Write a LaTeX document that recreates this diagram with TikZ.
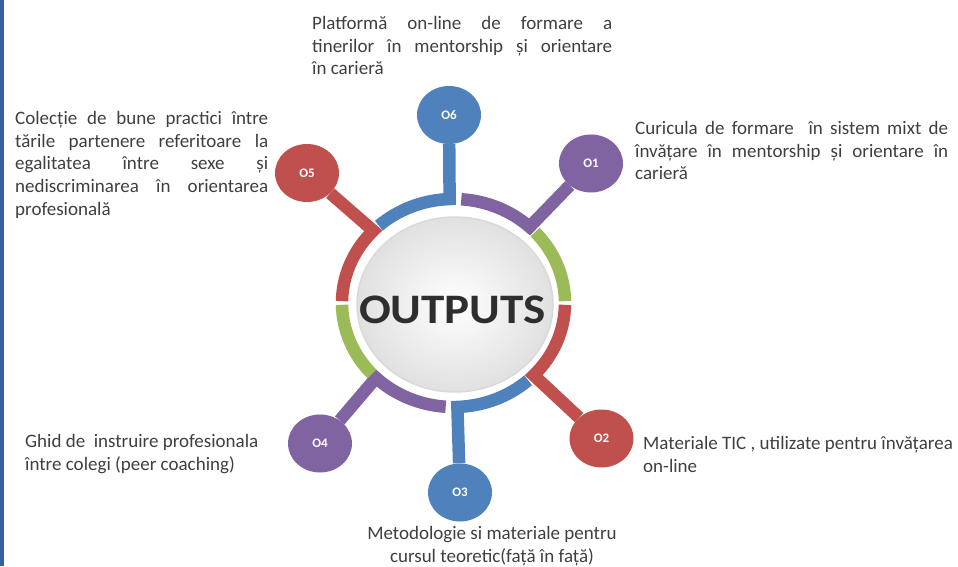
\documentclass[tikz,border=0pt]{standalone}
\usepackage{fontspec}
\setmainfont{Carlito}
\usetikzlibrary{positioning,calc,shapes.geometric}
\definecolor{oblue}{HTML}{4F81BD}
\definecolor{ored}{HTML}{C0504D}
\definecolor{ogreen}{HTML}{9BBB59}
\definecolor{opurple}{HTML}{8064A2}
\definecolor{otext}{HTML}{3F3F3F}
\definecolor{oframe}{HTML}{3A5FA0}

\begin{document}
\begin{tikzpicture}[x=1pt, y=1pt,
				outnode/.style={ellipse, minimum width=64pt, minimum height=58pt, inner sep=0pt, text=white, font=\fontsize{13}{13}\selectfont\bfseries},
				desc/.style={inner sep=0pt, text=otext, font=\fontsize{19}{22.8}\selectfont},
				ring/.style={line width=12.5pt, line join=miter}
			]
			\useasboundingbox (0,0) rectangle (958,566);
			\fill[oframe] (0,0) rectangle (4,566);
			\coordinate (C) at (453.5,263);
			% centre disc
			\shade[inner color=white, outer color=black!12] (455,261.5) ellipse [x radius=98pt, y radius=87.5pt];
			\draw[black!15, line width=1.5pt] (455,261.5) ellipse [x radius=98pt, y radius=87.5pt];
			\node[text=black!82, font=\fontsize{42}{42}\selectfont\bfseries, xscale=1.12] (title) at (452.5,256) {OUTPUTS};
			% outputs
			\node[outnode, fill=oblue] (o6) at (449,451) {O6};
			\node[outnode, fill=opurple] (o1) at (591,402.5) {O1};
			\node[outnode, fill=ored] (o5) at (307,393) {O5};
			\node[outnode, fill=ored] (o2) at (601.5,127.5) {O2};
			\node[outnode, fill=oblue] (o3) at (460,73.5) {O3};
			\node[outnode, fill=opurple] (o4) at (320,122.5) {O4};
			\begin{scope}[ring]
			\draw[oblue] (o6) -- ($(C)+(92:111.5pt and 104pt)$) arc[start angle=92, end angle=132, x radius=111.5pt, y radius=104pt];
			\draw[opurple] (o1) -- ($(C)+(47:111.5pt and 104pt)$) arc[start angle=47, end angle=86, x radius=111.5pt, y radius=104pt];
			\draw[ored] (o5) -- ($(C)+(136:111.5pt and 104pt)$) arc[start angle=136, end angle=179, x radius=111.5pt, y radius=104pt];
			\draw[ored] (o2) -- ($(C)+(316:111.5pt and 104pt)$) arc[start angle=316, end angle=359, x radius=111.5pt, y radius=104pt];
			\draw[oblue] (o3) -- ($(C)+(272:111.5pt and 104pt)$) arc[start angle=272, end angle=312, x radius=111.5pt, y radius=104pt];
			\draw[opurple] (o4) -- ($(C)+(226:111.5pt and 104pt)$) arc[start angle=226, end angle=266, x radius=111.5pt, y radius=104pt];
			\foreach \a in {1,181}
				\draw[ogreen] ($(C)+(\a:111.5pt and 104pt)$) arc[start angle=\a, end angle=\a+42, x radius=111.5pt, y radius=104pt];
			\end{scope}
			% texts
			\node[desc, anchor=north west, text width=300pt, align=justify] (t6) at (312,550) {Platformă on-line de formare a\linebreak tinerilor în mentorship și orientare\linebreak în carieră};
			\node[desc, anchor=north west, text width=253pt, align=justify] (t5) at (15,455) {Colecție de bune practici între\linebreak tările partenere referitoare la\linebreak egalitatea între sexe și\linebreak nediscriminarea în orientarea\linebreak profesională};
			\node[desc, anchor=north west, text width=313pt, align=justify] (t1) at (635,445) {Curicula de formare~ în sistem mixt de\linebreak învățare în mentorship și orientare în\linebreak carieră};
			\node[desc, anchor=north west, align=left] (t4) at (25,132) {Ghid de~ instruire profesionala\\între colegi (peer coaching)};
			\node[desc, anchor=north west, align=left] (t2) at (643,130) {Materiale TIC , utilizate pentru învățarea\\on-line};
			\node[desc, anchor=north, align=center] (t3) at (492,40) {Metodologie si materiale pentru\\cursul teoretic(față în față)};
			\end{tikzpicture}
\end{document}
